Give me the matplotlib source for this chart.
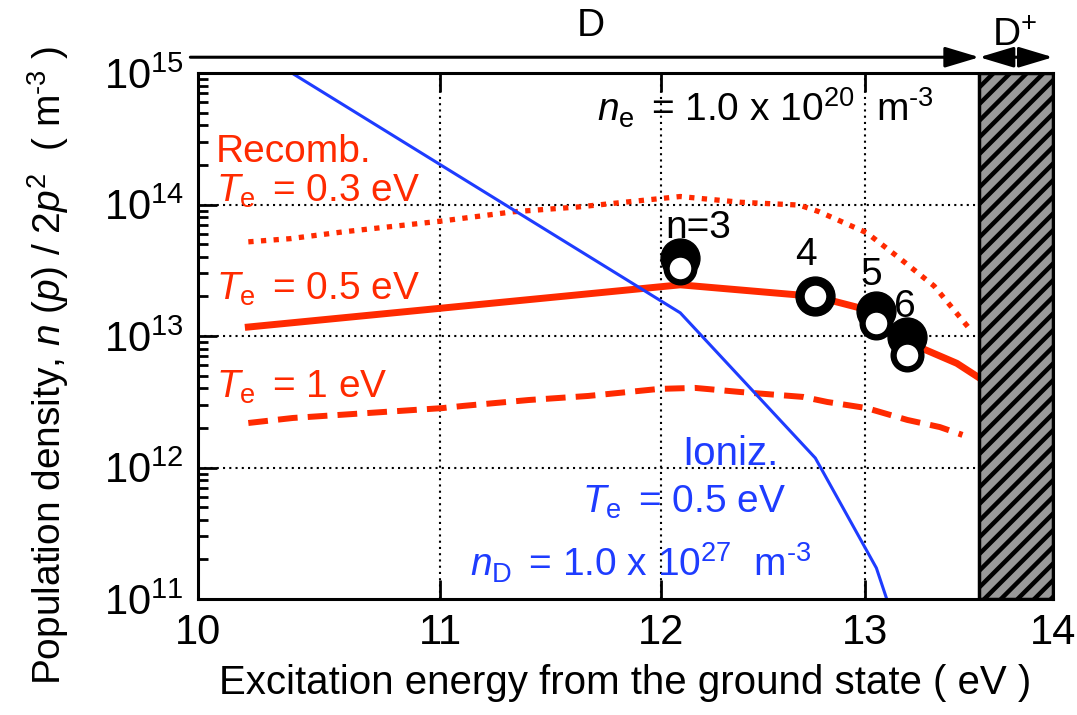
import numpy as np
import matplotlib
matplotlib.use("Agg")
import matplotlib.pyplot as plt
from matplotlib.ticker import FixedLocator, NullLocator, LogLocator, FuncFormatter

plt.rcParams['font.family'] = ['Liberation Sans', 'DejaVu Sans']
plt.rcParams['mathtext.fontset'] = 'custom'
plt.rcParams['mathtext.rm'] = 'Liberation Sans'
plt.rcParams['mathtext.it'] = 'Liberation Sans:italic'
plt.rcParams['mathtext.bf'] = 'Liberation Sans:bold'
plt.rcParams['hatch.linewidth'] = 3.2

RED = '#ff2a00'
BLUE = '#1e3cff'

# recombining plasma, Te = 0.5 eV (solid)
x_te05 = [10.2, 12.09, 12.75, 13.0, 13.06, 13.22, 13.48, 13.6]
y_te05 = [1.17e13, 2.45e13, 2.0e13, 1.6e13, 1.4e13, 9.0e12, 6.2e12, 4.8e12]

# recombining plasma, Te = 0.3 eV (dotted)
x_te03 = [10.2, 10.37, 10.59, 11.01, 11.32, 11.62, 12.09, 12.38, 12.67, 12.77,
          13.01, 13.18, 13.36, 13.54]
y_te03 = [5.2e13, 5.5e13, 6.2e13, 7.5e13, 8.8e13, 9.6e13, 1.15e14, 1.04e14,
          9.9e13, 8.8e13, 6.1e13, 3.9e13, 2.4e13, 1.17e13]

# recombining plasma, Te = 1 eV (dashed)
x_te1 = [10.2, 10.38, 11.01, 11.10, 11.39, 11.66, 11.99, 12.16, 12.38, 12.69,
         12.81, 13.01, 13.22, 13.39, 13.51]
y_te1 = [2.18e12, 2.38e12, 2.83e12, 2.94e12, 3.26e12, 3.50e12, 3.96e12, 4.03e12,
         3.75e12, 3.44e12, 3.15e12, 2.83e12, 2.30e12, 2.03e12, 1.77e12]

# ionizing plasma (blue)
x_ion = [10.2, 12.09, 12.75, 13.06, 13.22]
y_ion = [1.6e15, 1.5e13, 1.18e12, 1.72e11, 3.4e10]

# measured levels n = 3..6
levels = ['n=3', '4', '5', '6']
x_lev = [12.09, 12.75, 13.06, 13.22]
y_black = [3.9e13, 2.0e13, 1.55e13, 9.8e12]
y_white = [3.3e13, 2.0e13, 1.26e13, 7.2e12]

fig = plt.figure(figsize=(10.77, 7.15), dpi=100)
ax = fig.add_axes([198/1077, 1-599/715, 855/1077, 526/715])
ax.set_xscale('log')
ax.set_yscale('log')
ax.set_xlim(10, 14)
ax.set_ylim(1e11, 1e15)

# grid
for gx in [11, 12, 13]:
    ax.axvline(gx, color='black', lw=1.5, ls=(0, (1, 2)), zorder=1)
for gy in [1e12, 1e13, 1e14]:
    ax.axhline(gy, color='black', lw=1.5, ls=(0, (1, 2)), zorder=1)

# ionized region
ax.axvspan(13.6, 14, facecolor='#999999', edgecolor='black', hatch='//', lw=2.5, zorder=4)

ax.plot(x_te03, y_te03, color=RED, lw=3.8, ls=(0, (1, 1.4)), zorder=3)
ax.plot(x_te05, y_te05, color=RED, lw=5, zorder=3)
ax.plot(x_te1, y_te1, color=RED, lw=4.3, ls=(0, (3.3, 1.7)), zorder=3)
ax.plot(x_ion, y_ion, color=BLUE, lw=2.2, zorder=3)

ax.plot(x_lev, y_black, 'o', color='black', ms=28, zorder=5)
ax.plot(x_lev, y_white, 'o', mfc='white', mec='black', ms=20, mew=4.5, zorder=6)

# axes ticks
ax.xaxis.set_major_locator(FixedLocator([10, 11, 12, 13, 14]))
ax.xaxis.set_minor_locator(NullLocator())
ax.xaxis.set_major_formatter(FuncFormatter(lambda v, p: '%d' % round(v)))
ax.yaxis.set_major_locator(LogLocator(base=10, numticks=10))
ax.yaxis.set_minor_locator(LogLocator(base=10, subs=np.arange(2, 10), numticks=10))
ax.yaxis.set_major_formatter(FuncFormatter(lambda v, p: r'$10^{%d}$' % round(np.log10(v))))
ax.tick_params(which='both', direction='in', top=True, right=True, width=2)
ax.tick_params(which='major', length=14, labelsize=30, pad=10)
ax.tick_params(which='minor', length=7)
for s in ax.spines.values():
    s.set_linewidth(2.2)
    s.set_zorder(7)

ax.set_xlabel('Excitation energy from the ground state ( eV )', fontsize=29, labelpad=8)
fig.text(48/1077, 1-365/715,
         r'Population density, $n$ ($p$) / 2$p^2$  ( m$^{\text{-}3}$ )',
         rotation=90, ha='center', va='center', fontsize=28)

# texts inside
ax.text(10.07, 2.1e14, 'Recomb.', color=RED, fontsize=28)
ax.text(10.07, 1.045e14, r'$T_{\rm e}\,$ = 0.3 eV', color=RED, fontsize=28)
ax.text(10.07, 1.88e13, r'$T_{\rm e}\,$ = 0.5 eV', color=RED, fontsize=28)
ax.text(10.07, 3.38e12, r'$T_{\rm e}\,$ = 1 eV', color=RED, fontsize=28)

ax.text(12.10, 1.04e12, 'Ioniz.', color=BLUE, fontsize=29)
ax.text(11.63, 4.5e11, r'$T_{\rm e}\,$ = 0.5 eV', color=BLUE, fontsize=28)
ax.text(11.13, 1.47e11, r'$n_{\rm D}\,$ = 1.0 x 10$^{27}$  m$^{\text{-}3}$',
        color=BLUE, fontsize=28)

ax.text(11.70, 4.24e14, r'$n_{\rm e}\,$ = 1.0 x 10$^{20}$  m$^{\text{-}3}$',
        color='black', fontsize=28)

lab_pos = [(12.02, 5.56e13), (12.65, 3.47e13), (12.98, 2.44e13), (13.15, 1.39e13)]
for lab, (lx, ly) in zip(levels, lab_pos):
    ax.text(lx, ly, lab, color='black', fontsize=28, zorder=8)

# D / D+ arrows above the plot
trans = ax.get_xaxis_transform()
ax.annotate('', xy=(13.6, 1.03), xytext=(9.97, 1.03), xycoords=trans,
            arrowprops=dict(arrowstyle='-|>,head_length=0.6,head_width=0.18',
                            color='black', lw=2.2, mutation_scale=35,
                            shrinkA=0, shrinkB=0), annotation_clip=False)
ax.annotate('', xy=(14.0, 1.03), xytext=(13.6, 1.03), xycoords=trans,
            arrowprops=dict(arrowstyle='<|-|>,head_length=0.6,head_width=0.18',
                            color='black', lw=2.2, mutation_scale=35,
                            shrinkA=0, shrinkB=0), annotation_clip=False)
ax.text(11.67, 1.09, 'D', transform=trans, ha='center', va='center', fontsize=28)
ax.text(13.79, 1.07, r'D$^{+}$', transform=trans, ha='center', va='center', fontsize=28)

fig.savefig('out.png', dpi=100)
